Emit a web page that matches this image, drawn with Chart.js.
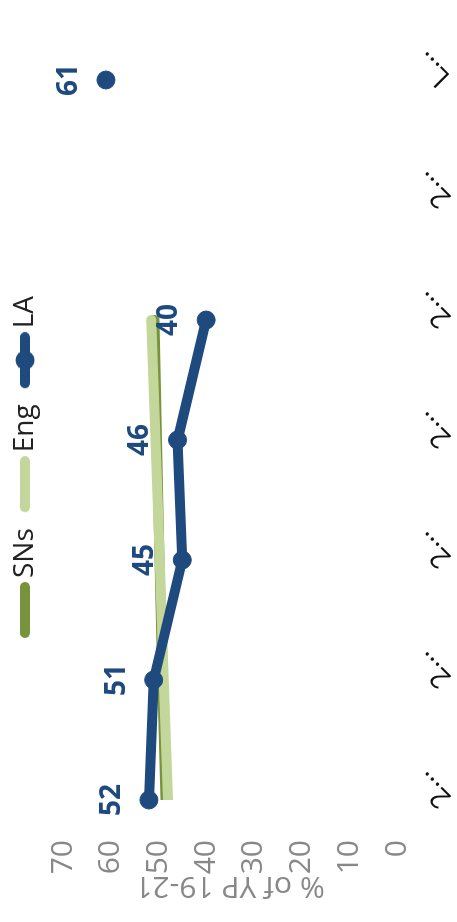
<!DOCTYPE html>
<html>
<head>
<meta charset="utf-8">
<script src="https://cdn.jsdelivr.net/npm/chart.js@4"></script>
<style>
  html, body { margin: 0; padding: 0; background: #fff; overflow: hidden; }
  #wrap {
    position: absolute; left: 0; top: 0;
    width: 922px; height: 457px;
    transform-origin: 0 0;
    transform: translateY(922px) rotate(-90deg);
  }
</style>
</head>
<body>
<div id="wrap"><canvas id="chart" width="922" height="457"></canvas></div>
<script>
// data
const categories = ['2…', '2…', '2…', '2…', '2…', '2…', 'L…'];
const laValues  = [52, 51, 45, 46, 40, null, 61];
const engValues = [48.0, 48.9, 49.7, 50.6, 51.5, null, null];
const snsValues = [48.5, 49.2, 49.8, 50.3, 50.8, null, null];
const yTicks = [0, 10, 20, 30, 40, 50, 60, 70];

const LA_BLUE = '#1f4a7e';
const ENG_GREEN = '#c4d79b';
const SNS_GREEN = '#77933c';
const FONT = "'Open Sans', sans-serif";

// legend icons: rounded line (LA also gets a dot), sitting a bit right of the box centre
function makeIcon(color, withDot) {
  const c = document.createElement('canvas');
  c.width = 71; c.height = 20;
  const g = c.getContext('2d');
  g.strokeStyle = color;
  g.lineWidth = 10;
  g.lineCap = 'round';
  g.beginPath();
  g.moveTo(20, 10);
  g.lineTo(66, 10);
  g.stroke();
  if (withDot) {
    g.fillStyle = color;
    g.beginPath();
    g.arc(43, 10, 9.5, 0, Math.PI * 2);
    g.fill();
  }
  return c;
}
const icons = [makeIcon(LA_BLUE, true), makeIcon(ENG_GREEN, false), makeIcon(SNS_GREEN, false)];

// value labels above the LA points
const valueLabels = {
  id: 'valueLabels',
  afterDatasetsDraw(chart) {
    const ctx = chart.ctx;
    const meta = chart.getDatasetMeta(0);
    ctx.save();
    ctx.font = "bold 28px " + FONT;
    ctx.fillStyle = LA_BLUE;
    ctx.textAlign = 'center';
    ctx.textBaseline = 'middle';
    meta.data.forEach((pt, i) => {
      if (laValues[i] == null) return;
      ctx.fillText(String(laValues[i]), pt.x, pt.y - 37);
    });
    ctx.restore();
  }
};

// fixed legend height
const legendHeight = {
  id: 'legendHeight',
  beforeInit(chart) {
    const fit = chart.legend.fit;
    chart.legend.fit = function () {
      fit.call(this);
      this.height = 63;
    };
  }
};

const chart = new Chart(document.getElementById('chart'), {
  type: 'line',
  data: {
    labels: categories,
    datasets: [
      { label: 'LA', data: laValues, borderColor: LA_BLUE, backgroundColor: LA_BLUE,
        borderWidth: 10, pointRadius: 9, pointHoverRadius: 9, pointBorderWidth: 1,
        borderCapStyle: 'round', spanGaps: false, tension: 0 },
      { label: 'Eng', data: engValues, borderColor: ENG_GREEN, backgroundColor: ENG_GREEN,
        borderWidth: 10, pointRadius: 0, borderCapStyle: 'round', clip: 0, tension: 0 },
      { label: 'SNs', data: snsValues, borderColor: SNS_GREEN, backgroundColor: SNS_GREEN,
        borderWidth: 10, pointRadius: 0, borderCapStyle: 'round', clip: 0, tension: 0 }
    ]
  },
  options: {
    responsive: false,
    animation: false,
    layout: { padding: { left: 0, right: 17, top: 0, bottom: 0 } },
    plugins: {
      tooltip: { enabled: false },
      legend: {
        position: 'top',
        reverse: true,
        labels: {
          usePointStyle: true,
          pointStyleWidth: 51,
          padding: 11,
          color: '#222',
          font: { family: FONT, size: 28 },
          generateLabels(chart) {
            const items = Chart.defaults.plugins.legend.labels.generateLabels(chart);
            items.forEach(it => { it.pointStyle = icons[it.datasetIndex]; });
            return items;
          }
        }
      }
    },
    scales: {
      x: {
        offset: false,
        afterFit(scale) { scale.height = 60; },
        grid: { display: false },
        border: { display: false },
        ticks: {
          color: '#111',
          font: { family: FONT, size: 28 },
          minRotation: 45, maxRotation: 45,
          labelOffset: 24,
          autoSkip: false
        }
      },
      y: {
        min: 0, max: 70,
        afterBuildTicks(scale) { scale.ticks = yTicks.map(v => ({ value: v })); },
        afterFit(scale) { scale.width = 122; },
        grid: { display: false },
        border: { display: false },
        ticks: { color: '#888', padding: 32, font: { family: FONT, size: 30 } },
        title: {
          display: true, text: '% of YP 19-21', color: '#888',
          padding: { top: 18, bottom: 4 },
          font: { family: FONT, size: 30 }
        }
      },
      yRight: {
        position: 'right',
        afterFit(scale) { scale.width = 63; },
        grid: { display: false },
        border: { display: false },
        ticks: { display: false }
      }
    }
  },
  plugins: [valueLabels, legendHeight]
});
</script>
</body>
</html>
